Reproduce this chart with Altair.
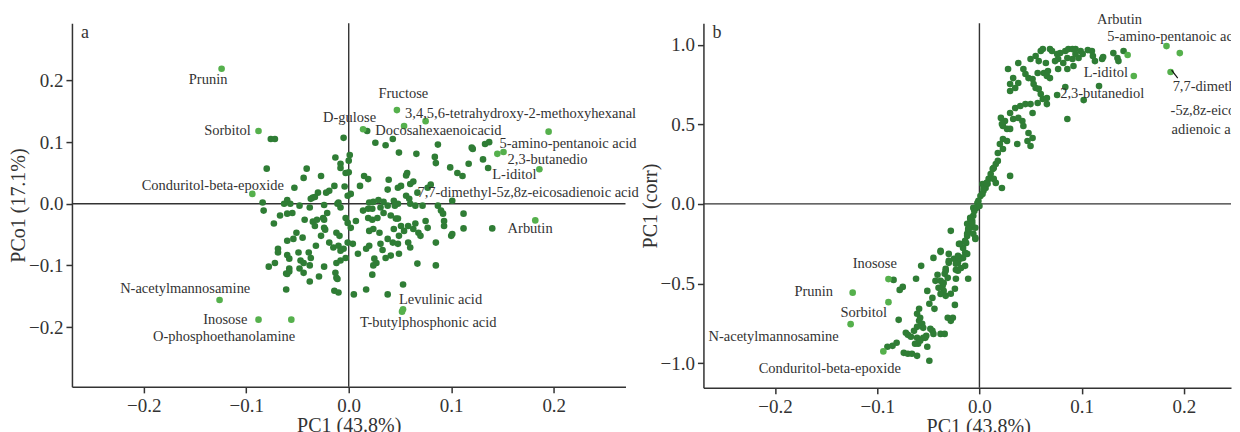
import altair as alt
import pandas as pd

# ---------------- Panel a : PC1 vs PCo1 scores ----------------
a_points = [
    (-0.076, 0.105), (-0.072, 0.105), (0.018, 0.118), (-0.005, 0.107), (0.026, 0.099), (0.036, 0.095),
    (0.001, 0.079), (-0.013, 0.075), (-0.008, 0.065), (-0.008, 0.058), (0.000, 0.070),
    (-0.003, 0.050), (0.000, 0.051), (-0.080, 0.057), (-0.041, 0.057), (-0.044, 0.042), (-0.027, 0.045),
    (0.015, 0.045), (0.019, 0.040), (0.039, 0.039), (0.011, 0.029), (-0.004, 0.028), (-0.014, 0.029),
    (-0.053, 0.026), (-0.019, 0.021), (-0.022, 0.018), (-0.030, 0.018), (-0.035, 0.010), (-0.033, 0.011),
    (-0.037, 0.008), (0.038, 0.023), (0.002, 0.016), (-0.001, 0.013), (-0.084, 0.002), (-0.083, -0.011),
    (-0.063, 0.000), (-0.060, 0.006), (-0.057, 0.000), (-0.048, -0.003), (-0.038, -0.006), (-0.024, -0.002),
    (-0.011, 0.000), (-0.010, 0.002), (-0.008, -0.006), (0.020, 0.002), (0.024, 0.003), (0.029, 0.006),
    (0.034, 0.003), (0.014, -0.011), (0.019, -0.008), (0.023, -0.008), (0.031, -0.006), (0.038, -0.003),
    (-0.067, -0.019), (-0.060, -0.016), (-0.055, -0.015), (-0.073, -0.032), (-0.043, -0.026), (-0.035, -0.029),
    (-0.031, -0.026), (-0.025, -0.023), (-0.021, -0.015), (-0.024, -0.026), (-0.003, -0.023), (-0.001, -0.031),
    (0.007, -0.028), (0.019, -0.023), (0.023, -0.026), (0.028, -0.023), (0.034, -0.015), (-0.033, -0.036),
    (-0.024, -0.039), (0.002, -0.039), (0.020, -0.044), (0.024, -0.041), (0.030, -0.047), (-0.051, -0.047),
    (-0.054, -0.057), (-0.060, -0.060), (-0.045, -0.055), (-0.023, -0.042), (-0.027, -0.052), (-0.012, -0.047),
    (-0.009, -0.052), (-0.019, -0.063), (-0.015, -0.071), (-0.010, -0.068), (-0.005, -0.073), (-0.008, -0.076),
    (-0.001, -0.063), (0.004, -0.065), (-0.032, -0.068), (-0.039, -0.079), (-0.037, -0.088), (-0.049, -0.079),
    (-0.047, -0.092), (-0.069, -0.073), (-0.069, -0.079), (-0.060, -0.083), (-0.058, -0.089), (0.009, -0.081),
    (0.017, -0.073), (0.020, -0.068), (0.031, -0.065), (0.033, -0.075), (0.038, -0.057), (-0.072, -0.096),
    (-0.078, -0.102), (-0.044, -0.096), (-0.038, -0.100), (-0.024, -0.102), (-0.012, -0.096), (-0.008, -0.092),
    (-0.003, -0.088), (0.025, -0.089), (0.027, -0.096), (0.036, -0.088), (-0.058, -0.105), (-0.061, -0.113),
    (-0.048, -0.105), (-0.044, -0.112), (-0.029, -0.118), (-0.012, -0.120), (0.024, -0.100), (0.023, -0.115),
    (-0.038, -0.126), (-0.061, -0.139), (-0.014, -0.141), (-0.010, -0.144), (0.005, -0.147), (0.017, -0.139),
    (0.038, -0.147), (-0.060, -0.114), (-0.058, -0.110), (-0.013, -0.112), (-0.011, -0.122),
    (0.087, 0.096), (0.066, 0.081), (0.084, 0.076), (0.085, 0.066), (0.049, 0.083), (0.099, 0.059),
    (0.106, 0.050), (0.111, 0.045), (0.117, 0.065), (0.131, 0.072), (0.136, 0.058), (0.120, 0.091),
    (0.121, 0.089), (0.133, 0.097), (0.137, 0.100), (0.043, 0.105), (0.057, 0.050), (0.056, 0.046),
    (0.063, 0.036), (0.060, 0.032), (0.048, 0.026), (0.051, 0.029), (0.077, 0.026), (0.080, 0.031),
    (0.067, 0.018), (0.056, 0.013), (0.059, 0.008), (0.101, 0.005), (0.044, 0.005), (0.048, 0.000),
    (0.060, 0.000), (0.065, -0.003), (0.072, -0.003), (0.087, -0.003), (0.090, -0.011), (0.092, -0.016),
    (0.112, -0.016), (0.140, -0.040), (0.112, -0.040), (0.100, -0.052), (0.101, -0.049), (0.093, -0.036),
    (0.093, -0.028), (0.075, -0.028), (0.077, -0.039), (0.085, -0.063), (0.068, -0.047), (0.070, -0.052),
    (0.058, -0.036), (0.054, -0.044), (0.063, -0.041), (0.065, -0.032), (0.048, -0.024), (0.051, -0.036),
    (0.044, -0.041), (0.049, -0.052), (0.058, -0.063), (0.060, -0.071), (0.067, -0.097), (0.085, -0.100),
    (0.053, -0.131), (0.049, -0.081), (0.041, -0.084), (0.043, -0.063), (0.048, -0.065), (0.041, -0.019),
    (0.046, -0.024), (0.045, -0.003),
]
a_hl_names = ["Prunin", "Sorbitol", "Conduritol-beta-epoxide", "N-acetylmannosamine", "Inosose",
              "O-phosphoethanolamine", "Fructose", "D-gulose", "Docosahexaenoicacid",
              "3,4,5,6-tetrahydroxy-2-methoxyhexanal", "5-amino-pentanoic acid", "2,3-butanedio",
              "L-iditol", "7,7-dimethyl-5z,8z-eicosadienoic acid", "Arbutin", "Levulinic acid",
              "T-butylphosphonic acid"]
a_hl_x = [-0.124, -0.088, -0.094, -0.126, -0.088, -0.056, 0.047, 0.014, 0.054, 0.075, 0.195, 0.145,
          0.186, 0.151, 0.182, 0.053, 0.052]
a_hl_y = [0.219, 0.118, 0.016, -0.156, -0.188, -0.188, 0.152, 0.121, 0.126, 0.134, 0.117, 0.081,
          0.056, 0.084, -0.027, -0.171, -0.175]
a_lab_x = [-0.156, -0.141, -0.202, -0.223, -0.142, -0.191, 0.029, -0.025, 0.026, 0.055, 0.147, 0.155,
           0.140, 0.067, 0.155, 0.049, 0.011]
a_lab_y = [0.201, 0.118, 0.029, -0.139, -0.188, -0.216, 0.178, 0.139, 0.118, 0.146, 0.097, 0.071,
           0.047, 0.018, -0.041, -0.156, -0.194]

# ---------------- Panel b : PC1 vs PC1 (corr) ----------------
b_points = [
    (0.001, 0.050), (0.004, 0.082), (0.006, 0.100), (0.008, 0.126), (0.003, 0.125), (0.009, 0.157),
    (0.011, 0.188), (0.014, 0.157), (0.016, 0.132), (0.013, 0.220), (0.016, 0.251), (0.018, 0.270),
    (0.014, 0.226), (0.022, 0.100), (0.030, 0.176), (0.018, 0.320), (0.023, 0.345), (0.020, 0.376),
    (0.023, 0.408), (0.027, 0.395), (0.027, 0.471), (0.023, 0.489), (0.030, 0.471), (0.025, 0.521),
    (0.021, 0.540), (0.022, 0.502), (0.033, 0.533), (0.038, 0.540), (0.042, 0.521), (0.043, 0.489),
    (0.030, 0.571), (0.035, 0.602), (0.040, 0.615), (0.045, 0.627), (0.050, 0.627), (0.052, 0.571),
    (0.037, 0.376), (0.047, 0.395), (0.050, 0.364), (0.052, 0.414), (0.048, 0.445), (0.057, 0.634),
    (0.062, 0.659), (0.066, 0.627), (0.066, 0.665), (0.060, 0.690), (0.030, 0.709), (0.035, 0.728),
    (0.038, 0.759), (0.030, 0.753), (0.033, 0.790), (0.028, 0.847), (0.038, 0.885), (0.043, 0.847),
    (0.045, 0.816), (0.048, 0.790), (0.052, 0.784), (0.053, 0.753), (0.055, 0.728), (0.058, 0.722),
    (0.050, 0.910), (0.055, 0.929), (0.060, 0.960), (0.062, 0.972), (0.058, 0.897), (0.065, 0.885),
    (0.063, 0.822), (0.066, 0.803), (0.069, 0.790), (0.067, 0.834), (0.057, 0.822), (0.069, 0.972),
    (0.071, 0.960), (0.076, 0.941), (0.077, 0.910), (0.074, 0.897), (0.079, 0.947), (0.084, 0.960),
    (0.087, 0.972), (0.091, 0.972), (0.094, 0.972), (0.099, 0.960), (0.101, 0.941), (0.106, 0.966),
    (0.110, 0.960), (0.111, 0.929), (0.086, 0.916), (0.091, 0.910), (0.082, 0.885), (0.092, 0.866),
    (0.077, 0.847), (0.086, 0.847), (0.097, 0.916), (0.094, 0.941), (0.113, 0.897), (0.120, 0.910),
    (0.121, 0.922), (0.131, 0.947), (0.135, 0.916), (0.141, 0.960), (0.136, 0.897), (0.086, 0.533),
    (0.117, 0.740), (0.102, 0.652), (0.084, 0.734), (0.076, 0.684), (-0.006, -0.025), (-0.002, 0.006),
    (-0.084, -0.477), (-0.075, -0.521), (-0.078, -0.540), (-0.062, -0.470), (-0.057, -0.389),
    (-0.045, -0.339), (-0.038, -0.301), (-0.028, -0.169), (-0.030, -0.314), (-0.020, -0.251),
    (-0.016, -0.276), (-0.013, -0.245), (-0.014, -0.307), (-0.012, -0.201), (-0.011, -0.169),
    (-0.009, -0.150), (-0.007, -0.107), (-0.006, -0.075), (-0.005, -0.044), (-0.003, -0.025),
    (-0.012, -0.125), (-0.009, -0.094), (-0.004, -0.150), (-0.004, -0.220), (-0.006, -0.188),
    (-0.001, 0.019), (0.003, 0.063), (0.004, 0.100), (0.007, 0.132), (0.000, -0.013),
    (-0.025, -0.345), (-0.021, -0.370), (-0.020, -0.345), (-0.017, -0.339), (-0.023, -0.414),
    (-0.021, -0.420), (-0.018, -0.402), (-0.011, -0.470), (-0.023, -0.470), (-0.024, -0.533),
    (-0.030, -0.358), (-0.033, -0.408), (-0.034, -0.439), (-0.041, -0.445), (-0.043, -0.483),
    (-0.038, -0.483), (-0.036, -0.514), (-0.035, -0.546), (-0.040, -0.527), (-0.038, -0.565),
    (-0.051, -0.546), (-0.049, -0.627), (-0.044, -0.659), (-0.046, -0.590), (-0.024, -0.634),
    (-0.031, -0.715), (-0.026, -0.715), (-0.028, -0.734), (-0.059, -0.659), (-0.061, -0.690),
    (-0.059, -0.734), (-0.056, -0.753), (-0.058, -0.715), (-0.055, -0.778), (-0.052, -0.828),
    (-0.055, -0.841), (-0.046, -0.797), (-0.038, -0.816), (-0.034, -0.816), (-0.061, -0.841),
    (-0.063, -0.878), (-0.060, -0.878), (-0.058, -0.859), (-0.072, -0.809), (-0.070, -0.822),
    (-0.067, -0.834), (-0.079, -0.728), (-0.081, -0.872), (-0.085, -0.891), (-0.074, -0.935),
    (-0.070, -0.941), (-0.066, -0.941), (-0.061, -0.954), (-0.049, -0.985), (-0.064, -0.797),
    (-0.061, -0.772), (-0.090, -0.897), (-0.053, -0.841), (-0.051, -0.897), (-0.048, -0.784),
    (-0.045, -0.816), (-0.014, -0.389), (-0.012, -0.314), (-0.016, -0.339), (-0.019, -0.345),
    (-0.019, -0.251), (-0.014, -0.232), (-0.012, -0.188), (-0.011, -0.157), (-0.007, -0.126),
    (-0.009, -0.088), (-0.004, -0.213), (-0.038, -0.295), (-0.033, -0.420), (-0.030, -0.370),
    (-0.023, -0.376), (-0.021, -0.326), (-0.031, -0.464), (-0.035, -0.496), (-0.033, -0.577),
    (-0.028, -0.564),
]
b_hl_x = [-0.089, -0.124, -0.089, -0.126, -0.094, 0.183, 0.196, 0.187, 0.145, 0.151]
b_hl_y = [-0.472, -0.557, -0.617, -0.755, -0.926, 0.991, 0.947, 0.828, 0.935, 0.803]
b_lab_text = ["Inosose", "Prunin", "Sorbitol", "N-acetylmannosamine", "Conduritol-beta-epoxide",
              "Arbutin", "L-iditol", "2,3-butanediol"]
b_lab_x = [-0.124, -0.181, -0.136, -0.265, -0.216, 0.115, 0.102, 0.079]
b_lab_y = [-0.377, -0.552, -0.684, -0.834, -1.035, 1.154, 0.822, 0.690]
# labels running past the right edge of the picture
b_edge_text = ["5-amino-pentanoic acid", "7,7-dimethyl", "-5z,8z-eicos", "adienoic acid"]
b_edge_x = [0.125, 0.189, 0.187, 0.188]
b_edge_y = [1.048, 0.734, 0.583, 0.464]
b_leader = {"x": [0.188], "y": [0.840], "x2": [0.194], "y2": [0.790]}

# ---------------- styling ----------------
FONT = "Liberation Serif"
DARK = "#2f7d35"
LIGHT = "#55b04c"
INK = "#333333"
PT = 44
LFS = 14.5


def panel(points, hl_x, hl_y, lab_text, lab_x, lab_y, xdom, ydom, yvals, ytitle, letter, w, h,
          title_x=None, extra=None):
    pts = pd.DataFrame(points, columns=["x", "y"])
    hl = pd.DataFrame({"x": hl_x, "y": hl_y})
    lab = pd.DataFrame({"t": lab_text, "x": lab_x, "y": lab_y})
    xs = alt.Scale(domain=xdom, nice=False, zero=False)
    ys = alt.Scale(domain=ydom, nice=False, zero=False)
    xkw = dict(values=[-0.2, -0.1, 0.0, 0.1, 0.2], format=".1f", title="PC1 (43.8%)")
    if title_x is not None:
        xkw["titleX"] = title_x
    xax = alt.Axis(**xkw)
    yax = alt.Axis(values=yvals, format=".1f", title=ytitle)
    base_pts = alt.Chart(pts).mark_circle(size=PT, opacity=1, color=DARK).encode(
        x=alt.X("x:Q", scale=xs, axis=xax), y=alt.Y("y:Q", scale=ys, axis=yax))
    vline = alt.Chart(pd.DataFrame({"v": [0.0]})).mark_rule(color=INK, strokeWidth=1.4).encode(
        x=alt.X("v:Q", scale=xs))
    hline = alt.Chart(pd.DataFrame({"v": [0.0]})).mark_rule(color=INK, strokeWidth=1.4).encode(
        y=alt.Y("v:Q", scale=ys))
    hl_pts = alt.Chart(hl).mark_circle(size=PT, opacity=1, color=LIGHT).encode(
        x=alt.X("x:Q", scale=xs), y=alt.Y("y:Q", scale=ys))
    labels = alt.Chart(lab).mark_text(font=FONT, fontSize=LFS, color=INK, align="left",
                                       baseline="middle").encode(
        x=alt.X("x:Q", scale=xs), y=alt.Y("y:Q", scale=ys), text="t:N")
    let = alt.Chart(pd.DataFrame({"t": [letter]})).mark_text(
        font=FONT, fontSize=18, color=INK, align="left", baseline="middle").encode(
        x=alt.value(9), y=alt.value(10), text="t:N")
    layers = [vline, hline, base_pts, hl_pts, labels, let]
    if extra is not None:
        layers += extra(xs, ys)
    return alt.layer(*layers).properties(width=w, height=h)


def b_extra(xs, ys):
    edge = pd.DataFrame({"t": b_edge_text, "x": b_edge_x, "y": b_edge_y})
    edge_labels = alt.Chart(edge).mark_text(font=FONT, fontSize=LFS, color=INK, align="left",
                                            baseline="middle", clip=True).encode(
        x=alt.X("x:Q", scale=xs), y=alt.Y("y:Q", scale=ys), text="t:N")
    leader = alt.Chart(pd.DataFrame(b_leader)).mark_rule(color="#111111", strokeWidth=1.2).encode(
        x=alt.X("x:Q", scale=xs), y=alt.Y("y:Q", scale=ys), x2="x2:Q", y2="y2:Q")
    return [edge_labels, leader]


pa = panel(a_points, a_hl_x, a_hl_y, a_hl_names, a_lab_x, a_lab_y,
           [-0.27, 0.27], [-0.297, 0.293], [-0.2, -0.1, 0.0, 0.1, 0.2], "PCo1 (17.1%)", "a", 554, 364)
pb = panel(b_points, b_hl_x, b_hl_y, b_lab_text, b_lab_x, b_lab_y,
           [-0.27, 0.2461], [-1.155, 1.135], [-1.0, -0.5, 0.0, 0.5, 1.0], "PC1 (corr)", "b", 528, 365,
           title_x=275, extra=b_extra)

chart = alt.hconcat(pa, pb, spacing=78, bounds="flush").properties(
    padding={"left": 0, "top": 3, "right": 0, "bottom": 0}
).configure_view(stroke=None).configure_axis(
    labelFont=FONT, labelFontSize=19, labelColor=INK,
    titleFont=FONT, titleFontSize=20, titleFontWeight="normal", titleColor=INK,
    domainColor=INK, domainWidth=1.5, tickColor=INK, tickWidth=1.5, tickSize=6,
    grid=False, labelPadding=3, titlePadding=0,
).configure_axisX(labelPadding=4, titlePadding=0)

chart.save("out.html", embed_options={"renderer": "svg", "actions": False})
